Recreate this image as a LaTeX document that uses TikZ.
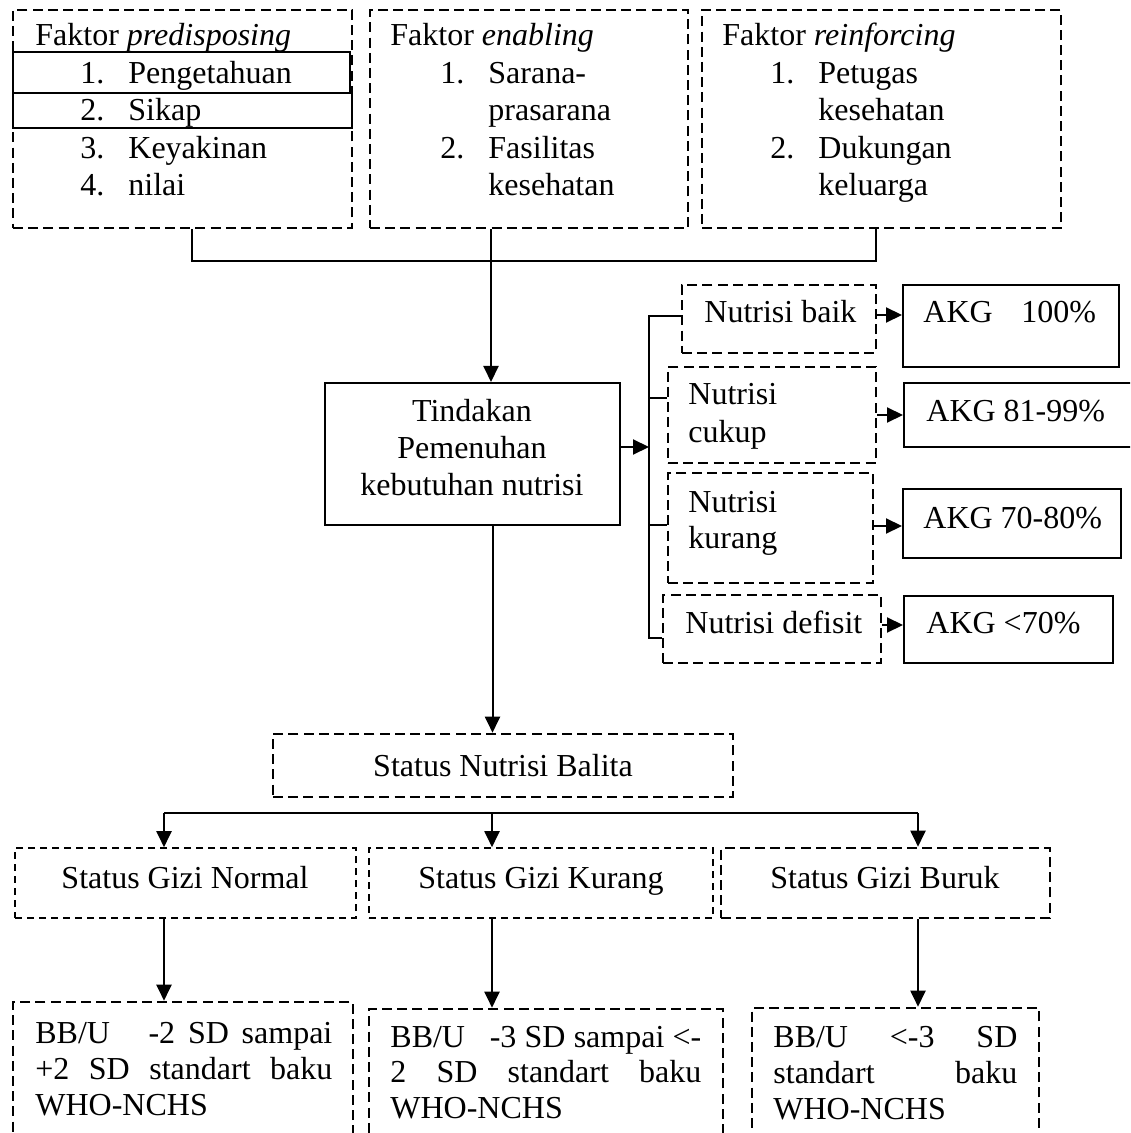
\documentclass[tikz,border=0pt]{standalone}
\usepackage{fontspec}
\setmainfont{Liberation Serif}
\usetikzlibrary{arrows.meta,fit}

\tikzset{
    kotak/.style={draw, line width=1pt, inner sep=0pt},
    kotakputus/.style={draw, line width=1.3pt, dash pattern=on 5pt off 2.6pt, inner sep=0pt},
    kotaktipis/.style={draw, line width=0.8pt, dash pattern=on 3.5pt off 2.5pt, inner sep=0pt},
    teks/.style={inner sep=0pt, anchor=base west, font=\fontsize{16}{18.5}\selectfont},
    tekstengah/.style={teks, anchor=base},
    garis/.style={line width=1pt},
    panah/.style={line width=1pt, -{Triangle[length=8pt,width=7.5pt]}},
}

\begin{document}
\begin{tikzpicture}[x=0.5pt,y=-0.5pt]
        \clip (0,0) rectangle (1130,1133);

        % faktor
        \node[kotakputus, fit={(13,10) (352,228)}] (predisposing) {};
        \node[kotak, fit={(13,52) (350,93)}] (pengetahuan) {};
        \node[kotak, fit={(13,93) (352,128)}] (sikap) {};
        \node[teks] (tPredisposing) at (35,46) {Faktor \textit{predisposing}};
        \foreach \n/\isi/\y in {1/Pengetahuan/83.5, 2/Sikap/121, 3/Keyakinan/158.5, 4/nilai/196} {
            \node[teks] (noP\n) at (80,\y) {\n.};
            \node[teks] (isiP\n) at (128,\y) {\isi};
        }

        \node[kotakputus, fit={(370,10) (688,228)}] (enabling) {};
        \node[teks] (tEnabling) at (390,46) {Faktor \textit{enabling}};
        \node[teks] (noE1) at (440,83.5) {1.};
        \node[teks] (noE2) at (440,158.5) {2.};
        \foreach \n/\isi/\y in {1/Sarana-/83.5, 2/prasarana/121, 3/Fasilitas/158.5, 4/kesehatan/196} {
            \node[teks] (isiE\n) at (488,\y) {\isi};
        }

        \node[kotakputus, fit={(702,10) (1061,228)}] (reinforcing) {};
        \node[teks] (tReinforcing) at (722,46) {Faktor \textit{reinforcing}};
        \node[teks] (noR1) at (770,83.5) {1.};
        \node[teks] (noR2) at (770,158.5) {2.};
        \foreach \n/\isi/\y in {1/Petugas/83.5, 2/kesehatan/121, 3/Dukungan/158.5, 4/keluarga/196} {
            \node[teks] (isiR\n) at (818,\y) {\isi};
        }

        % tindakan
        \node[kotak, fit={(325,383) (620,525)}] (tindakan) {};
        \node[tekstengah] (tTindakan1) at (472,422) {Tindakan};
        \node[tekstengah] (tTindakan2) at (472,458.5) {Pemenuhan};
        \node[tekstengah] (tTindakan3) at (472,495) {kebutuhan nutrisi};

        \coordinate (simpul) at (491,261);
        \coordinate (kaki) at (192,0);
        \draw[garis] (kaki |- predisposing.south) |- (simpul);
        \draw[garis] ([xshift=-3pt]reinforcing.south) |- (simpul);
        \draw[garis] (simpul |- enabling.south) -- (simpul);
        \draw[panah] (simpul) -- (simpul |- tindakan.north);

        % nutrisi
        \node[kotakputus, fit={(682,285) (876,353)}] (baik) {};
        \node[kotakputus, fit={(668,367) (876,463)}] (cukup) {};
        \node[kotakputus, fit={(668,473) (873,583)}] (kurang) {};
        \node[kotakputus, fit={(663,595) (881,663)}] (defisit) {};
        \node[teks] (tBaik) at (704,323) {Nutrisi baik};
        \node[teks] (tCukup1) at (688,405) {Nutrisi};
        \node[teks] (tCukup2) at (688,442) {cukup};
        \node[teks] (tKurang1) at (688,512) {Nutrisi};
        \node[teks] (tKurang2) at (688,548) {kurang};
        \node[teks] (tDefisit) at (685,633) {Nutrisi defisit};

        \node[kotak, fit={(903,285) (1119,367)}] (akgA) {};
        \node[kotak, fit={(904,383) (1145,447)}] (akgB) {};
        \node[kotak, fit={(903,489) (1121,558)}] (akgC) {};
        \node[kotak, fit={(904,596) (1113,663)}] (akgD) {};
        \node[teks] (tAkgA) at (923,323) {AKG\hspace{0.9em}100\%};
        \node[teks] (tAkgB) at (926,422) {AKG 81-99\%};
        \node[teks] (tAkgC) at (923,528) {AKG 70-80\%};
        \node[teks] (tAkgD) at (926,633) {AKG <70\%};

        \coordinate (cabang) at (649,447);
        \coordinate (cb1) at (649,316);
        \coordinate (cb2) at (649,398);
        \coordinate (cb3) at (649,525);
        \coordinate (cb4) at (649,638);
        \draw[panah] (tindakan.east |- cabang) -- (cabang);
        \draw[garis] (baik.west |- cb1) -- (cb1) -- (cb4) -- (defisit.west |- cb4);
        \draw[garis] (cb2) -- (cukup.west |- cb2);
        \draw[garis] (cb3) -- (kurang.west |- cb3);

        \draw[panah] ([yshift=2pt]baik.east) -- ([yshift=2pt]baik.east -| akgA.west);
        \draw[panah] (cukup.east) -- (cukup.east -| akgB.west);
        \draw[panah] ([yshift=1pt]kurang.east) -- ([yshift=1pt]kurang.east -| akgC.west);
        \draw[panah] ([yshift=2pt]defisit.east) -- ([yshift=2pt]defisit.east -| akgD.west);

        % status
        \node[kotakputus, fit={(273,734) (733,797)}] (balita) {};
        \node[tekstengah] (tBalita) at (503,776) {Status Nutrisi Balita};
        \coordinate (tb) at ([xshift=10pt]tindakan.south);
        \draw[panah] (tb) -- (tb |- balita.north);

        \node[kotaktipis, fit={(15,848) (356,918)}] (normal) {};
        \node[kotaktipis, fit={(369,848) (713,918)}] (gizikurang) {};
        \node[kotakputus, fit={(721,848) (1050,918)}] (buruk) {};
        \node[tekstengah] (tNormal) at (185,888) {Status Gizi Normal};
        \node[tekstengah] (tGiziKurang) at (541,888) {Status Gizi Kurang};
        \node[tekstengah] (tBuruk) at (885,888) {Status Gizi Buruk};

        \coordinate (gl) at (164,813);
        \coordinate (gk) at (492,813);
        \coordinate (gb) at (918,813);
        \draw[garis] (gl) -- (gb);
        \draw[panah] (gl) -- (gl |- normal.north);
        \draw[panah] (gk) -- (gk |- gizikurang.north);
        \draw[panah] (gb) -- (gb |- buruk.north);

        % standar BB/U
        \node[kotakputus, fit={(13,1002) (353,1160)}] (bbuA) {};
        \node[kotakputus, fit={(369,1009) (723,1160)}] (bbuB) {};
        \node[kotakputus, fit={(752,1008) (1039,1160)}] (bbuC) {};
        \draw[panah] (gl |- normal.south) -- (gl |- bbuA.north);
        \draw[panah] (gk |- gizikurang.south) -- (gk |- bbuB.north);
        \draw[panah] (gb |- buruk.south) -- (gb |- bbuC.north);

        \node[teks] (tBbuA1) at (35,1043) {\makebox[148.5pt][s]{BB/U\ \ \ -2 SD sampai}};
        \node[teks] (tBbuA2) at (35,1079) {\makebox[148.5pt][s]{+2 SD standart baku}};
        \node[teks] (tBbuA3) at (35,1115) {WHO-NCHS};
        \node[teks] (tBbuB1) at (390,1047) {\makebox[155.5pt][s]{BB/U\ \ \ -3 SD sampai <-}};
        \node[teks] (tBbuB2) at (390,1082) {\makebox[155.5pt][s]{2 SD standart baku}};
        \node[teks] (tBbuB3) at (390,1118) {WHO-NCHS};
        \node[teks] (tBbuC1) at (773,1047) {\makebox[122pt][s]{BB/U <-3 SD}};
        \node[teks] (tBbuC2) at (773,1083) {\makebox[122pt][s]{standart baku}};
        \node[teks] (tBbuC3) at (773,1119) {WHO-NCHS};

    \end{tikzpicture}
\end{document}
